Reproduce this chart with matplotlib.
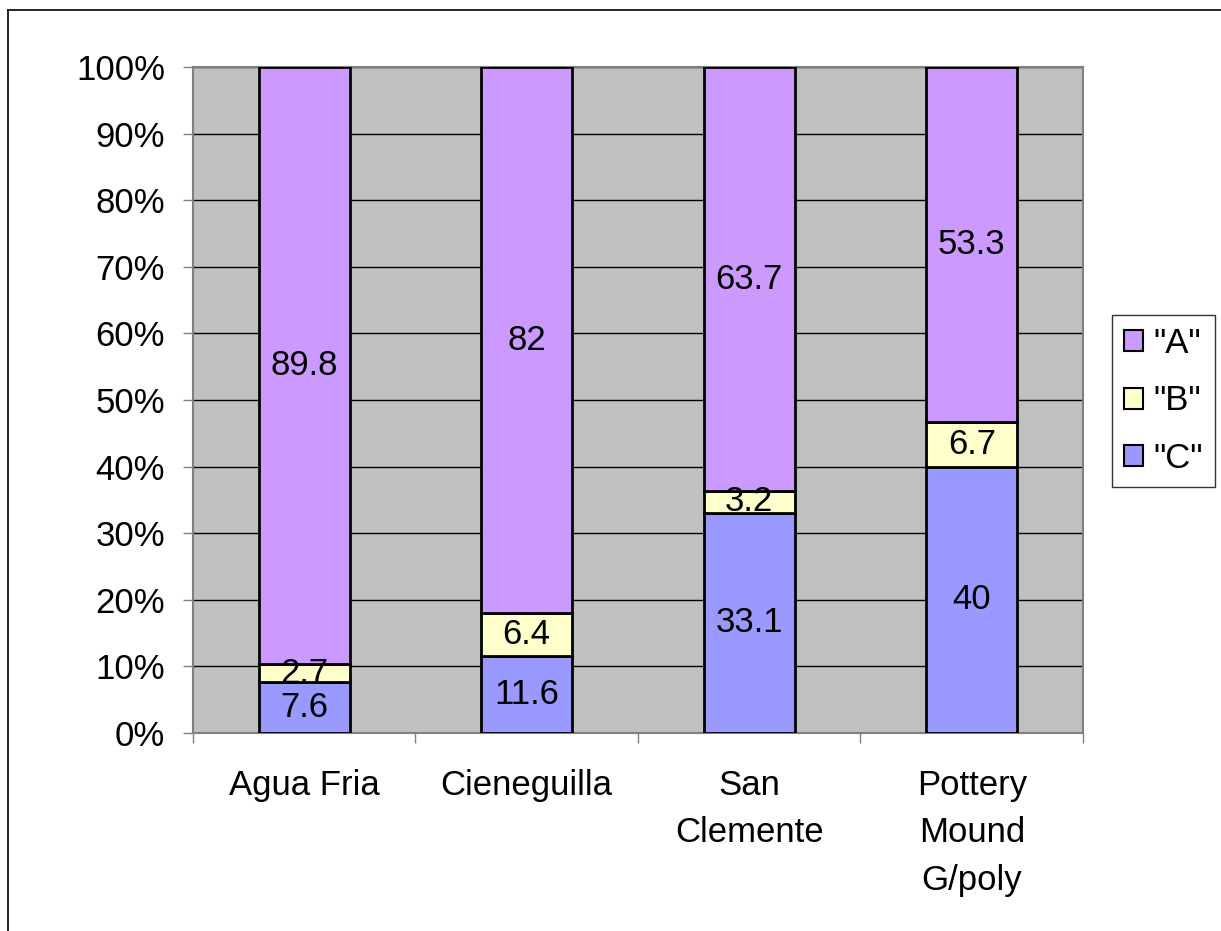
import matplotlib.pyplot as plt
import numpy as np
from matplotlib.lines import Line2D
from matplotlib.patches import Patch

plt.rcParams['font.family'] = ['Liberation Sans', 'DejaVu Sans']

sites = ["Agua Fria", "Cieneguilla", "San\nClemente", "Pottery\nMound\nG/poly"]
c_vals = [7.6, 11.6, 33.1, 40]
b_vals = [2.7, 6.4, 3.2, 6.7]
a_vals = [89.8, 82, 63.7, 53.3]
series = [('"C"', c_vals, "#9999FF"), ('"B"', b_vals, "#FFFFCC"), ('"A"', a_vals, "#CC99FF")]

totals = np.array(c_vals) + np.array(b_vals) + np.array(a_vals)
fs = 25

fig = plt.figure(figsize=(12.21, 9.31), dpi=100)
ax = fig.add_axes([0.158, 0.2127, 0.729, 0.7154])
ax.set_facecolor("#C0C0C0")

x = np.arange(len(sites))
bottom = np.zeros(len(sites))
for name, vals, color in series:
    share = np.array(vals) / totals
    ax.bar(x, share, width=0.41, bottom=bottom, color=color,
           edgecolor="black", linewidth=2, zorder=3)
    for xi, b, s, v in zip(x, bottom, share, vals):
        ax.text(xi, b + s / 2, f"{v:g}", ha="center", va="center",
                fontsize=fs, zorder=4)
    bottom += share

ax.set_xlim(-0.5, 3.5)
ax.set_ylim(0, 1)
ax.set_yticks(np.arange(0, 1.01, 0.1))
ax.set_yticklabels([f"{int(round(t * 100))}%" for t in np.arange(0, 1.01, 0.1)])
ax.yaxis.grid(True, color="black", linewidth=1, zorder=1)
ax.set_axisbelow(True)

# category labels sit between the boundary ticks
ax.set_xticks(np.arange(-0.5, 4, 1))
ax.set_xticklabels([])
ax.set_xticks(x, minor=True)
ax.set_xticklabels(sites, minor=True, fontsize=fs, linespacing=1.55)
ax.tick_params(axis="x", which="minor", length=0, pad=26)
ax.tick_params(axis="x", which="major", length=7, width=1, color="#808080")
ax.tick_params(axis="y", length=7, width=1, color="#808080", labelsize=fs, pad=13)

for s in ax.spines.values():
    s.set_color("#808080")
    s.set_linewidth(1.5)

handles = [Patch(facecolor=c, edgecolor="black", linewidth=1.5, label=n)
           for n, _, c in series[::-1]]
leg = fig.legend(handles=handles, loc="upper left",
                 bbox_to_anchor=(1112 / 1221, 1 - 315 / 931),
                 fontsize=fs, frameon=True, fancybox=False, edgecolor="black",
                 handlelength=0.55, handleheight=0.55, handletextpad=0.3,
                 labelspacing=0.7, borderpad=0.35, borderaxespad=0)
leg.get_frame().set_linewidth(1)

# outer chart border
fig.add_artist(Line2D([8 / 1221, 1], [1 - 10 / 931, 1 - 10 / 931],
                      color="black", linewidth=1.2, transform=fig.transFigure))
fig.add_artist(Line2D([8 / 1221, 8 / 1221], [0, 1 - 10 / 931],
                      color="black", linewidth=1.2, transform=fig.transFigure))

fig.savefig("out.png", dpi=100)
